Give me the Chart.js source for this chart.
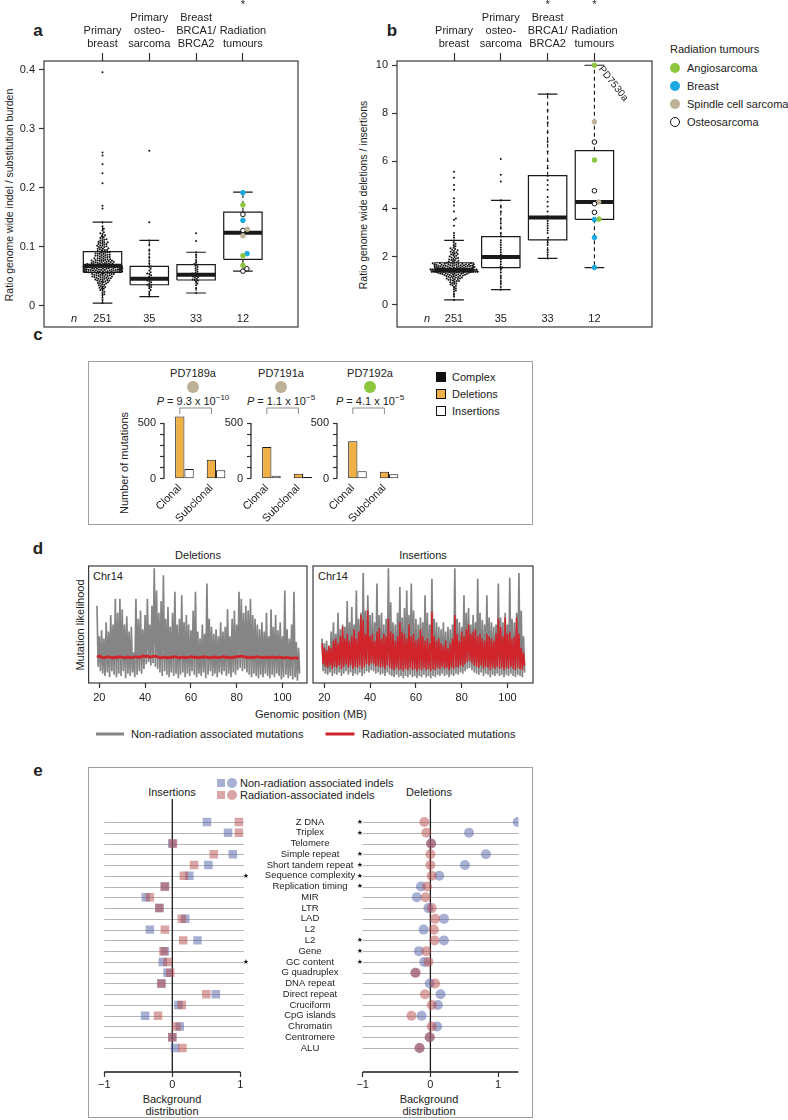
<!DOCTYPE html>
<html>
<head>
<meta charset="utf-8">
<title>Radiation-associated indels</title>
<script src="https://cdn.jsdelivr.net/npm/chart.js@4.4.1/dist/chart.umd.min.js"></script>
<style>
  body { margin: 0; background: #fff; }
  #page { position: relative; width: 788px; height: 1120px; overflow: hidden; font-family: "Liberation Sans", Arial, sans-serif; color: #222; }
  #page canvas { position: absolute; }
  .t { position: absolute; font-size: 11px; line-height: 1; white-space: nowrap; }
  .c { transform: translate(-50%, -50%); }
  .l { transform: translate(0, -50%); }
  .v { transform: translate(-50%, -50%) rotate(-90deg); }
  .tag { position: absolute; font-size: 17px; font-weight: bold; line-height: 1; transform: translate(-50%, -50%); }
  .frame { position: absolute; border: 1px solid #a0a0a0; }
  .mk { position: absolute; transform: translate(-50%, -50%); box-sizing: border-box; }
  sup { font-size: 8px; vertical-align: 5px; line-height: 0; }
</style>
</head>
<body>
<div id="page">
  <!-- a -->
  <div class="tag" style="left:38px;top:30px">a</div>
  <div class="t v" style="left:9px;top:195px;font-size:10.5px">Ratio genome wide indel / substitution burden</div>
  <!-- b -->
  <div class="tag" style="left:392px;top:30px">b</div>
  <div class="t v" style="left:363px;top:195px;font-size:10.5px">Ratio genome wide deletions / insertions</div>
  <div class="t l" style="left:670px;top:49px">Radiation tumours</div>
  <div class="mk" style="left:675px;top:68px;width:10px;height:10px;border-radius:50%;background:#8cc63e"></div>
  <div class="mk" style="left:675px;top:86px;width:10px;height:10px;border-radius:50%;background:#1ba9e1"></div>
  <div class="mk" style="left:675px;top:104px;width:10px;height:10px;border-radius:50%;background:#bdb196"></div>
  <div class="mk" style="left:675px;top:122px;width:10px;height:10px;border-radius:50%;border:1.3px solid #111;background:#fff"></div>
  <div class="t l" style="left:687px;top:68px">Angiosarcoma</div>
  <div class="t l" style="left:687px;top:86px">Breast</div>
  <div class="t l" style="left:687px;top:104px">Spindle cell sarcoma</div>
  <div class="t l" style="left:687px;top:122px">Osteosarcoma</div>
  <!-- c -->
  <div class="tag" style="left:38px;top:334px">c</div>
  <div class="frame" style="left:88px;top:361px;width:443px;height:162px"></div>
  <div class="t c" style="left:193px;top:373px">PD7189a</div>
  <div class="t c" style="left:281px;top:373px">PD7191a</div>
  <div class="t c" style="left:370px;top:373px">PD7192a</div>
  <div class="mk" style="left:193px;top:387px;width:12px;height:12px;border-radius:50%;background:#bdb196"></div>
  <div class="mk" style="left:281px;top:387px;width:12px;height:12px;border-radius:50%;background:#bdb196"></div>
  <div class="mk" style="left:370px;top:387px;width:12px;height:12px;border-radius:50%;background:#8cc63e"></div>
  <div class="t c" style="left:193px;top:401px"><i>P</i> = 9.3 x 10<sup>−10</sup></div>
  <div class="t c" style="left:281px;top:401px"><i>P</i> = 1.1 x 10<sup>−5</sup></div>
  <div class="t c" style="left:370px;top:401px"><i>P</i> = 4.1 x 10<sup>−5</sup></div>
  <div class="t v" style="left:124px;top:463px">Number of mutations</div>
  <div class="mk" style="left:441px;top:377px;width:10px;height:10px;border:1px solid #111;background:#111"></div>
  <div class="mk" style="left:441px;top:394px;width:10px;height:10px;border:1px solid #111;background:#efb045"></div>
  <div class="mk" style="left:441px;top:411px;width:10px;height:10px;border:1px solid #111;background:#fff"></div>
  <div class="t l" style="left:452px;top:377px">Complex</div>
  <div class="t l" style="left:452px;top:394px">Deletions</div>
  <div class="t l" style="left:452px;top:411px">Insertions</div>
  <!-- d -->
  <div class="tag" style="left:38px;top:548px">d</div>
  <div class="t c" style="left:198px;top:555px">Deletions</div>
  <div class="t c" style="left:423px;top:555px">Insertions</div>
  <div class="t l" style="left:93px;top:576px">Chr14</div>
  <div class="t l" style="left:318px;top:576px">Chr14</div>
  <div class="t v" style="left:80px;top:625px">Mutation likelihood</div>
  <div class="t c" style="left:311px;top:714px">Genomic position (MB)</div>
  <div class="mk" style="left:110px;top:734px;width:28px;height:3px;background:#858585"></div>
  <div class="t l" style="left:131px;top:734px">Non-radiation associated mutations</div>
  <div class="mk" style="left:340px;top:734px;width:29px;height:3px;background:#d1232a"></div>
  <div class="t l" style="left:362px;top:734px">Radiation-associated mutations</div>
  <!-- e -->
  <div class="tag" style="left:38px;top:770px">e</div>
  <div class="frame" style="left:88px;top:767px;width:443px;height:349px"></div>
  <div class="mk" style="left:221px;top:783px;width:8px;height:8px;background:rgba(80,95,165,0.5)"></div>
  <div class="mk" style="left:232px;top:783px;width:10px;height:10px;border-radius:50%;background:rgba(80,95,165,0.5)"></div>
  <div class="mk" style="left:221px;top:795px;width:8px;height:8px;background:rgba(185,75,75,0.5)"></div>
  <div class="mk" style="left:232px;top:795px;width:10px;height:10px;border-radius:50%;background:rgba(185,75,75,0.5)"></div>
  <div class="t l" style="left:240px;top:783px">Non-radiation associated indels</div>
  <div class="t l" style="left:240px;top:795px">Radiation-associated indels</div>
  <div class="t c" style="left:172px;top:792px">Insertions</div>
  <div class="t c" style="left:429px;top:792px">Deletions</div>
  <div class="t c" style="left:172px;top:1099px">Background</div>
  <div class="t c" style="left:172px;top:1111px">distribution</div>
  <div class="t c" style="left:429px;top:1099px">Background</div>
  <div class="t c" style="left:429px;top:1111px">distribution</div>
</div>
<script>
// ---------- data: panels a and b ----------
const groupN = [251, 35, 33, 12];
const topLabelsA = [["Primary", "breast"], ["Primary", "osteo-", "sarcoma"], ["Breast", "BRCA1/", "BRCA2"], ["*", "", "Radiation", "tumours"]];
const topLabelsB = [["Primary", "breast"], ["Primary", "osteo-", "sarcoma"], ["*", "Breast", "BRCA1/", "BRCA2"], ["*", "", "Radiation", "tumours"]];

// box statistics (lower whisker, quartiles, median, upper whisker)
const lowA = [0.005, 0.016, 0.022, 0.059];
const q1A = [0.057, 0.036, 0.044, 0.079];
const medA = [0.068, 0.046, 0.053, 0.124];
const q3A = [0.092, 0.067, 0.070, 0.159];
const highA = [0.142, 0.111, 0.091, 0.193];

const lowB = [0.21, 0.64, 1.94, 1.56];
const q1B = [1.38, 1.56, 2.71, 3.57];
const medB = [1.47, 2.00, 3.65, 4.29];
const q3B = [1.76, 2.85, 5.39, 6.43];
const highB = [2.69, 4.36, 8.79, 9.99];

const breastA = [0.005,0.010,0.014,0.018,0.020,0.022,0.024,0.026,0.027,0.029,0.030,0.031,0.032,0.033,0.034,0.035,0.036,0.037,0.038,0.038,0.039,0.040,0.040,0.041,0.042,0.042,0.043,0.043,0.044,0.044,0.045,0.045,0.046,0.046,0.047,0.047,0.048,0.048,0.048,0.049,0.049,0.050,0.050,0.050,0.051,0.051,0.052,0.052,0.052,0.053,0.053,0.053,0.054,0.054,0.054,0.055,0.055,0.055,0.056,0.056,0.056,0.057,0.057,
  0.057,0.057,0.057,0.058,0.058,0.058,0.058,0.058,0.059,0.059,0.059,0.059,0.059,0.059,0.060,0.060,0.060,0.060,0.060,0.060,0.061,0.061,0.061,0.061,0.061,0.061,0.062,0.062,0.062,0.062,0.062,0.062,0.063,0.063,0.063,0.063,0.063,0.063,0.064,0.064,0.064,0.064,0.064,0.064,0.065,0.065,0.065,0.065,0.065,0.065,0.066,0.066,0.066,0.066,0.066,0.066,0.067,0.067,0.067,0.067,0.067,0.068,0.068,
  0.068,0.068,0.069,0.069,0.069,0.069,0.070,0.070,0.070,0.070,0.071,0.071,0.071,0.071,0.072,0.072,0.072,0.073,0.073,0.073,0.074,0.074,0.074,0.075,0.075,0.075,0.076,0.076,0.076,0.077,0.077,0.077,0.078,0.078,0.078,0.079,0.079,0.080,0.080,0.081,0.081,0.082,0.082,0.083,0.083,0.084,0.084,0.085,0.085,0.086,0.086,0.087,0.087,0.088,0.088,0.089,0.089,0.090,0.090,0.091,0.091,0.092,0.092,
  0.093,0.094,0.095,0.095,0.096,0.097,0.097,0.098,0.099,0.100,0.100,0.101,0.102,0.102,0.103,0.104,0.105,0.105,0.106,0.107,0.108,0.108,0.109,0.110,0.111,0.112,0.113,0.114,0.115,0.117,0.118,0.120,0.122,0.123,0.125,0.128,0.131,0.135,0.142,0.165,0.170,0.208,0.225,0.240,0.255,0.260,0.396];
const osteoA = [0.016,0.020,0.024,0.027,0.030,0.032,0.034,0.036,0.036,0.038,0.040,0.042,0.043,0.045,0.046,0.046,0.047,0.050,0.052,0.054,0.055,0.057,0.060,0.063,0.066,0.067,0.072,0.076,0.082,0.088,0.095,0.103,0.111,0.142,0.263];
const brcaA = [0.022,0.030,0.035,0.038,0.041,0.043,0.044,0.045,0.046,0.048,0.049,0.050,0.051,0.052,0.053,0.054,0.055,0.056,0.058,0.060,0.062,0.064,0.066,0.068,0.070,0.071,0.074,0.078,0.082,0.087,0.091,0.110,0.123];
const radA = [0.192, 0.171, 0.155, 0.145, 0.128, 0.130, 0.119, 0.0887, 0.0853, 0.069, 0.059, 0.063];
const radTypeA = ["breast", "angio", "osteo", "breast", "osteo", "spindle", "spindle", "breast", "angio", "angio", "osteo", "osteo"];

const breastB = [0.21,0.35,0.45,0.55,0.60,0.65,0.70,0.75,0.80,0.82,0.85,0.88,0.90,0.92,0.95,0.97,1.00,1.00,1.02,1.04,1.05,1.07,1.08,1.10,1.10,1.12,1.13,1.15,1.15,1.17,1.18,1.20,1.20,1.21,1.22,1.23,1.24,1.25,1.25,1.26,1.27,1.28,1.28,1.29,1.30,1.30,1.31,1.32,1.32,1.33,1.33,1.34,1.34,1.35,1.35,1.36,1.36,1.37,1.37,1.38,1.38,
  1.38,1.39,1.39,1.39,1.39,1.39,1.39,1.40,1.40,1.40,1.40,1.40,1.40,1.40,1.41,1.41,1.41,1.41,1.41,1.41,1.41,1.42,1.42,1.42,1.42,1.42,1.42,1.42,1.43,1.43,1.43,1.43,1.43,1.43,1.43,1.44,1.44,1.44,1.44,1.44,1.44,1.44,1.45,1.45,1.45,1.45,1.45,1.45,1.45,1.46,1.46,1.46,1.46,1.46,1.46,1.46,1.47,1.47,1.47,1.47,1.47,1.47,
  1.48,1.48,1.48,1.48,1.50,1.50,1.50,1.50,1.52,1.52,1.52,1.52,1.54,1.54,1.54,1.54,1.56,1.56,1.56,1.56,1.58,1.58,1.58,1.58,1.60,1.60,1.60,1.60,1.62,1.62,1.62,1.62,1.64,1.64,1.64,1.64,1.66,1.66,1.66,1.66,1.68,1.68,1.68,1.68,1.70,1.70,1.70,1.70,1.72,1.72,1.72,1.72,1.74,1.74,1.74,1.76,1.76,1.76,
  1.78,1.80,1.82,1.84,1.86,1.88,1.90,1.92,1.94,1.96,1.98,2.00,2.02,2.05,2.08,2.10,2.12,2.15,2.18,2.20,2.22,2.25,2.28,2.30,2.33,2.36,2.40,2.45,2.50,2.55,2.60,2.69,2.80,2.90,3.00,3.30,3.55,3.60,3.90,4.15,4.30,4.45,4.80,5.00,5.30,5.55];
const osteoB = [0.64,0.75,0.90,1.00,1.10,1.20,1.35,1.50,1.56,1.60,1.70,1.80,1.90,1.95,2.00,2.00,2.05,2.10,2.20,2.30,2.40,2.50,2.60,2.70,2.85,3.00,3.20,3.40,3.60,3.90,4.10,4.36,5.15,5.43,6.08];
const brcaB = [1.94,2.10,2.20,2.30,2.50,2.60,2.71,2.80,3.00,3.10,3.20,3.30,3.40,3.50,3.60,3.65,3.70,3.90,4.10,4.30,4.50,4.80,5.00,5.20,5.39,5.70,6.00,6.40,6.80,7.20,7.60,8.10,8.79];
const radB = [9.99, 7.63, 6.79, 6.04, 4.76, 4.29, 4.22, 3.86, 3.56, 3.58, 2.81, 1.56];
const radTypeB = ["angio", "spindle", "osteo", "angio", "osteo", "spindle", "osteo", "osteo", "breast", "angio", "breast", "breast"];

// ---------- data: panel c ----------
const clonalityC = ["Clonal", "Subclonal"];
const complexC = [[5, 4], [4, 4], [3, 3]];
const deletionsC = [[560, 170], [285, 45], [338, 63]];
const insertionsC = [[87, 75], [27, 15], [66, 39]];

// ---------- data: panel d (Chr14, per-MB envelope of the likelihood trace) ----------
const posD = [19,20,21,22,23,24,25,26,27,28,29,30,31,32,33,34,35,36,37,38,39,40,41,42,43,44,45,46,47,48,49,50,51,52,53,54,55,56,57,58,59,60,61,62,63,64,65,66,67,68,69,70,71,72,73,74,75,76,77,78,79,80,81,82,83,84,85,86,87,88,89,90,91,92,93,94,95,96,97,98,99,100,101,102,103,104,105,106,107];
const delGrayHi = [66,40,45,38,52,44,58,50,72,60, 72,63,50,57,44,48,26,72,55,62, 46,58,72,50,66,98,79,60,70,92, 55,65,48,60,78,50,55,75,52,58, 50,45,62,78,44,38,50,42,85,55, 48,42,46,40,52,44,48,63,40,55, 62,50,78,72,60,66,62,72,58,55, 50,46,52,44,60,40,63,48,58,45, 52,40,79,46,38,50,78,35,30];
const delGrayLo = [14,10,8,6,9,5,10,7,5,8, 6,10,4,8,6,9,5,7,10,8, 12,16,18,15,17,14,12,9,6,10, 7,5,9,6,8,4,7,9,5,8, 6,10,7,5,8,6,9,4,7,10, 6,8,5,9,7,10,6,8,5,9, 7,11,13,10,12,9,7,5,8,6, 4,7,5,8,6,4,7,5,8,6, 3,5,7,4,6,3,5,2,8];
const delRed = [22,23,22,21.5,22,22.5,22,21.5,22,22, 22.5,22,21.5,22,22,21.5,22,22.5,22,22, 23,22.5,23,22,22.5,23,22.5,22,21.5,22, 22,21.5,22,22,22.5,22,21.5,22,22,21.5, 22,22.5,22,22,21.5,22,22,22.5,22,21.5, 22,22,22,21.5,22,22.5,22,22,21.5,22, 22,22.5,22.5,23,22.5,22,22,21.5,22,22, 22.5,22,21.5,22,22,21.5,22,22,21.5,22, 22,21.5,21.5,22,21.5,21,21.5,21.5,21];
const insGrayHi = [38,34,36,30,44,52,42,60,46,50, 48,70,52,65,50,79,55,60,94,62, 75,58,60,52,85,58,60,50,55,98, 69,52,50,60,82,56,64,79,58,85, 62,55,50,56,52,75,60,50,89,55, 52,48,46,52,44,48,46,50,98,55, 52,48,75,60,64,50,58,52,89,60, 54,50,75,56,52,48,50,85,56,52, 60,50,90,55,52,60,94,62,40];
const insGrayLo = [10,8,7,9,6,8,7,9,6,8, 10,7,9,6,8,7,9,6,8,10, 9,11,10,8,9,7,8,6,9,7, 6,5,7,5,6,4,6,5,7,5, 6,4,6,5,7,5,6,4,6,5, 7,6,8,6,7,5,7,6,8,7, 9,8,10,12,13,11,9,8,7,9, 6,8,7,5,7,6,8,6,7,5, 7,6,8,6,5,7,6,5,9];
const insRedHi = [34,30,28,32,30,36,38,34,40,48, 38,42,36,40,46,38,44,58,54,42, 62,40,42,36,44,47,38,42,40,55, 44,42,36,40,52,44,42,38,50,40, 42,36,38,46,40,36,38,34,61,40, 36,38,34,32,36,30,34,38,58,42, 36,44,40,46,50,42,44,46,40,42, 38,36,42,40,38,36,42,55,48,40, 56,42,44,38,40,56,42,30,26];
const insRedLo = [16,14,13,15,12,14,13,15,12,14, 16,13,15,12,14,13,15,12,14,16, 15,17,16,14,15,13,14,12,15,13, 12,11,13,11,12,10,12,11,13,11, 12,10,12,11,13,11,12,10,12,11, 13,12,14,12,13,11,13,12,14,13, 15,14,16,18,19,17,15,14,13,15, 12,14,13,11,13,12,14,12,13,11, 13,12,14,12,11,13,12,11,15];
const ticksD = [20, 40, 60, 80, 100];

// ---------- data: panel e ----------
const featuresE = ["Z DNA", "Triplex", "Telomere", "Simple repeat", "Short tandem repeat", "Sequence complexity", "Replication timing", "MIR", "LTR", "LAD", "L2", "L2", "Gene", "GC content", "G quadruplex", "DNA repeat", "Direct repeat", "Cruciform", "CpG islands", "Chromatin", "Centromere", "ALU"];
const insNonRadE = [0.51, 0.82, 0, 0.89, 0.53, 0.25, -0.11, -0.39, -0.19, 0.19, -0.33, 0.37, -0.11, -0.14, -0.07, -0.16, 0.64, 0.09, -0.40, 0.11, 0, 0.04];
const insRadE = [0.98, 0.98, 0.01, 0.61, 0.32, 0.17, -0.11, -0.33, -0.19, 0.14, -0.11, 0.16, -0.13, -0.07, -0.03, -0.16, 0.50, 0.14, -0.21, 0.06, 0, 0.15];
const delNonRadE = [1.29, 0.57, 0.01, 0.82, 0.51, 0.13, -0.14, -0.20, -0.03, 0.20, -0.10, 0.20, -0.17, -0.09, -0.22, -0.01, 0.15, 0.11, -0.13, 0.10, -0.01, -0.16];
const delRadE = [-0.09, -0.06, 0.01, 0, 0, 0.02, -0.05, -0.07, 0.02, 0.07, 0.05, 0.06, -0.06, -0.03, -0.22, 0.07, -0.08, 0.02, -0.28, 0.02, -0.01, -0.16];
const insStarE = [5, 13];
const delStarE = [0, 1, 3, 4, 5, 6, 11, 12, 13];
const ticksE = [-1, 0, 1];

// ---------- styling ----------
const FONT = '"Liberation Sans", Arial, sans-serif';
const tumourFill = { angio: "#8cc63e", breast: "#1ba9e1", spindle: "#bdb196", osteo: "#ffffff" };
const tumourEdge = { angio: "#8cc63e", breast: "#1ba9e1", spindle: "#bdb196", osteo: "#111111" };
const GRAY = "#858585", RED = "#d1232a", ORANGE = "#efb045";
const BLUE_E = "rgba(80,95,165,0.5)", RED_E = "rgba(185,75,75,0.5)";

Chart.defaults.font.family = FONT;
Chart.defaults.font.size = 11;
Chart.defaults.color = "#222";
Chart.defaults.animation = false;
Chart.defaults.responsive = false;
Chart.defaults.events = [];
Chart.defaults.plugins.legend.display = false;
Chart.defaults.plugins.tooltip.enabled = false;

const page = document.getElementById("page");
function place(g) {
  const cv = document.createElement("canvas");
  cv.width = g.w; cv.height = g.h;
  cv.style.left = g.l + "px"; cv.style.top = g.t + "px";
  page.appendChild(cv);
  return cv;
}
// margins between canvas edge and the wanted chart area; sides that carry
// an axis get their margin as the axis size instead of as padding
function frameLayout(g, a, axisSides) {
  const m = { left: a.l - g.l, top: a.t - g.t, right: g.l + g.w - a.r, bottom: g.t + g.h - a.b };
  const padding = Object.assign({}, m);
  axisSides.forEach(s => { padding[s] = 0; });
  return { m, padding };
}
const fitTo = px => s => { if (s.isHorizontal()) s.height = px; else s.width = px; };
const fixTicks = list => s => { s.ticks = list.map(value => ({ value })); };
const tickGrid = len => ({ drawOnChartArea: false, tickLength: len, tickColor: "#333", tickWidth: 1.2 });

const framePlugin = {
  id: "frame",
  afterDatasetsDraw(chart) {
    const a = chart.chartArea, ctx = chart.ctx;
    ctx.save();
    ctx.strokeStyle = "#3a3a3a"; ctx.lineWidth = 1.2;
    ctx.strokeRect(a.left, a.top, a.right - a.left, a.bottom - a.top);
    ctx.restore();
  }
};

// ---------- panels a and b ----------
function boxParts(lo, q1, md, q3, hi, half, cap) {
  const boxes = [], meds = [], whisk = [], caps = [];
  q1.forEach((_, i) => {
    const c = i + 1;
    boxes.push({ x: c - half, y: q1[i] }, { x: c + half, y: q1[i] }, { x: c + half, y: q3[i] }, { x: c - half, y: q3[i] }, { x: c - half, y: q1[i] }, { x: c, y: null });
    meds.push({ x: c - half, y: md[i] }, { x: c + half, y: md[i] }, { x: c, y: null });
    whisk.push({ x: c, y: q3[i] }, { x: c, y: hi[i] }, { x: c, y: null }, { x: c, y: q1[i] }, { x: c, y: lo[i] }, { x: c, y: null });
    caps.push({ x: c - cap, y: hi[i] }, { x: c + cap, y: hi[i] }, { x: c, y: null }, { x: c - cap, y: lo[i] }, { x: c + cap, y: lo[i] }, { x: c, y: null });
  });
  return { boxes, meds, whisk, caps };
}

// beeswarm placement (closest free offset to the centre line, wrapped at maxHalf px)
function swarm(values, center, xs, ys, d, maxHalf) {
  const cx = xs.getPixelForValue(center);
  const order = values.map((_, i) => i).sort((a, b) => values[a] - values[b]);
  const placed = [];
  const out = new Array(values.length);
  order.forEach(i => {
    const py = ys.getPixelForValue(values[i]);
    const near = placed.filter(p => Math.abs(p.py - py) < d);
    const cands = [0];
    near.forEach(p => {
      const h = Math.sqrt(d * d - (p.py - py) ** 2);
      cands.push(p.dx + h, p.dx - h);
    });
    cands.sort((a, b) => Math.abs(a) - Math.abs(b));
    const dx = cands.find(c => near.every(p => (p.dx - c) ** 2 + (p.py - py) ** 2 >= d * d - 0.01));
    placed.push({ py, dx });
    let shown = dx;
    if (Math.abs(shown) > maxHalf) {
      shown = (((shown + maxHalf) % (2 * maxHalf)) + 2 * maxHalf) % (2 * maxHalf) - maxHalf;
    }
    out[i] = { x: xs.getValueForPixel(cx + shown), y: values[i] };
  });
  return out;
}

const nRowPlugin = {
  id: "nrow",
  afterDraw(chart) {
    const { ctx, chartArea: a } = chart;
    const xs = chart.scales.x;
    const y = a.bottom - 8;
    ctx.save();
    ctx.fillStyle = "#222"; ctx.textAlign = "center"; ctx.textBaseline = "middle";
    ctx.font = "italic 11px " + FONT;
    ctx.fillText("n", a.left + 30, y);
    ctx.font = "11px " + FONT;
    groupN.forEach((n, i) => ctx.fillText(String(n), xs.getPixelForValue(i + 1), y));
    ctx.restore();
  }
};

function boxChart(o) {
  const parts = boxParts(o.lo, o.q1, o.med, o.q3, o.hi, 0.41, 0.21);
  const lay = frameLayout(o.geom, o.area, ["left", "top"]);
  const lineDs = (data, w, dash, order) => ({
    data, showLine: true, borderColor: "#1a1a1a", borderWidth: w, borderDash: dash,
    pointRadius: 0, order, borderCapStyle: "butt", fill: false
  });
  const chart = new Chart(place(o.geom), {
    type: "scatter",
    data: {
      datasets: [
        { data: [], pointRadius: 2.3, pointBackgroundColor: o.radType.map(t => tumourFill[t]),
          pointBorderColor: o.radType.map(t => tumourEdge[t]), pointBorderWidth: 1, order: 0 },
        lineDs(parts.meds, 4, [], 1),
        lineDs(parts.boxes, 1.2, [], 2),
        lineDs(parts.caps, 1.2, [], 3),
        lineDs(parts.whisk, 1.1, [4, 3], 4),
        { data: [], pointRadius: 1, pointBackgroundColor: "#111", pointBorderWidth: 0, order: 5 }
      ]
    },
    options: {
      layout: { padding: lay.padding },
      scales: {
        x: { type: "linear", display: false, min: o.xr[0], max: o.xr[1] },
        xTop: {
          type: "linear", position: "top", min: o.xr[0], max: o.xr[1], afterFit: fitTo(lay.m.top),
          afterBuildTicks: fixTicks([1, 2, 3, 4]),
          ticks: { callback: v => o.top[v - 1], padding: 2, autoSkip: false, maxRotation: 0 },
          grid: tickGrid(8), border: { display: false }
        },
        y: {
          type: "linear", min: o.yr[0], max: o.yr[1], afterFit: fitTo(lay.m.left),
          afterBuildTicks: fixTicks(o.yTicks),
          ticks: { callback: o.yFmt, padding: 4, autoSkip: false },
          grid: tickGrid(5), border: { display: false }
        }
      }
    },
    plugins: [framePlugin, nRowPlugin].concat(o.extra || [])
  });
  const xs = chart.scales.x, ys = chart.scales.y;
  const dots = [];
  o.groups.forEach((vals, gi) => dots.push(...swarm(vals, gi + 1, xs, ys, 2.2, o.maxHalf[gi])));
  chart.data.datasets[5].data = dots;
  chart.data.datasets[0].data = swarm(o.rad, 4, xs, ys, 4.6, 30);
  chart.update("none");
  return chart;
}

boxChart({
  geom: { l: 0, t: 0, w: 320, h: 345 }, area: { l: 44, t: 61, r: 298, b: 327 },
  xr: [-0.25, 5.177], yr: [-0.0356, 0.415], yTicks: [0, 0.1, 0.2, 0.3, 0.4],
  yFmt: v => (v === 0 ? "0" : v.toFixed(1)), top: topLabelsA,
  lo: lowA, q1: q1A, med: medA, q3: q3A, hi: highA,
  groups: [breastA, osteoA, brcaA], maxHalf: [20, 22, 22], rad: radA, radType: radTypeA
});

const pdLabelPlugin = {
  id: "pdlabel",
  afterDraw(chart) {
    const k = radB.indexOf(Math.max(...radB));
    const p = chart.getDatasetMeta(0).data[k];
    if (!p) return;
    const ctx = chart.ctx;
    ctx.save();
    ctx.translate(p.x + 6, p.y + 2);
    ctx.rotate(52 * Math.PI / 180);
    ctx.font = "10px " + FONT; ctx.fillStyle = "#222"; ctx.textBaseline = "middle";
    ctx.fillText("PD7530a", 0, 0);
    ctx.restore();
  }
};

boxChart({
  geom: { l: 355, t: 0, w: 315, h: 345 }, area: { l: 397, t: 61, r: 652, b: 327 },
  xr: [-0.218, 5.23], yr: [-0.917, 10.167], yTicks: [0, 2, 4, 6, 8, 10],
  yFmt: v => String(v), top: topLabelsB,
  lo: lowB, q1: q1B, med: medB, q3: q3B, hi: highB,
  groups: [breastB, osteoB, brcaB], maxHalf: [24, 22, 22], rad: radB, radType: radTypeB,
  extra: [pdLabelPlugin]
});

// ---------- panel c ----------
const axisXC = [163.5, 250.5, 337];
const cPlugin = {
  id: "cdeco",
  afterDraw(chart) {
    const { ctx, chartArea: a, scales: { y } } = chart;
    const top = chart.canvas.offsetTop;
    ctx.save();
    ctx.strokeStyle = "#222"; ctx.lineWidth = 1.2;
    ctx.beginPath(); ctx.moveTo(a.left, y.getPixelForValue(0)); ctx.lineTo(a.left, y.getPixelForValue(500)); ctx.stroke();
    const bars = chart.getDatasetMeta(1).data;
    const yb = 408 - top;
    ctx.strokeStyle = "#8a8a8a"; ctx.lineWidth = 1;
    ctx.beginPath();
    ctx.moveTo(bars[0].x, yb + 6); ctx.lineTo(bars[0].x, yb); ctx.lineTo(bars[1].x, yb); ctx.lineTo(bars[1].x, yb + 6);
    ctx.stroke();
    ctx.restore();
  }
};
axisXC.forEach((ax, k) => {
  const geom = { l: ax - 42, t: 395, w: 42 + 68, h: 135 };
  const area = { l: ax, t: 412, r: ax + 63.2, b: 478.7 };
  const lay = frameLayout(geom, area, ["left", "bottom"]);
  const barDs = (label, data, color) => ({
    label, data, backgroundColor: color, borderColor: "#1a1a1a", borderWidth: 1,
    borderSkipped: false, categoryPercentage: 0.88, barPercentage: 1
  });
  new Chart(place(geom), {
    type: "bar",
    data: {
      labels: clonalityC,
      datasets: [
        barDs("Complex", complexC[k], "#111"),
        barDs("Deletions", deletionsC[k], ORANGE),
        barDs("Insertions", insertionsC[k], "#fff")
      ]
    },
    options: {
      layout: { padding: lay.padding },
      scales: {
        x: { afterFit: fitTo(lay.m.bottom), grid: { display: false, drawTicks: false }, border: { display: false },
             ticks: { minRotation: 45, maxRotation: 45, padding: 3, autoSkip: false } },
        y: { min: 0, max: 600, afterFit: fitTo(lay.m.left), afterBuildTicks: fixTicks([0, 100, 200, 300, 400, 500]),
             ticks: { callback: v => (v === 0 || v === 500 ? String(v) : ""), padding: 4, autoSkip: false },
             grid: tickGrid(4), border: { display: false } }
      }
    },
    plugins: [cPlugin]
  });
});

// ---------- panel d ----------
function zigzag(hi, lo) {
  const pts = [];
  posD.forEach((p, i) => { pts.push({ x: p, y: hi[i] }, { x: p + 0.5, y: lo[i] }); });
  return pts;
}
function traceChart(geom, area, xr, datasets) {
  const lay = frameLayout(geom, area, ["bottom"]);
  new Chart(place(geom), {
    type: "scatter",
    data: { datasets },
    options: {
      layout: { padding: lay.padding },
      elements: { point: { radius: 0 } },
      scales: {
        x: { type: "linear", min: xr[0], max: xr[1], afterFit: fitTo(lay.m.bottom), afterBuildTicks: fixTicks(ticksD),
             ticks: { padding: 3, autoSkip: false, maxRotation: 0 }, grid: tickGrid(5), border: { display: false } },
        y: { type: "linear", display: false, min: 0, max: 100 }
      }
    },
    plugins: [framePlugin]
  });
}
const traceDs = (data, color, w, order) => ({ data, showLine: true, borderColor: color, borderWidth: w, pointRadius: 0, order, borderJoinStyle: "miter", fill: false });
traceChart({ l: 60, t: 560, w: 260, h: 150 }, { l: 88.6, t: 566, r: 307, b: 683 }, [15.33, 110.7], [
  traceDs(posD.map((p, i) => ({ x: p, y: delRed[i] })), RED, 2.8, 0),
  traceDs(zigzag(delGrayHi, delGrayLo), GRAY, 1.7, 1)
]);
traceChart({ l: 300, t: 560, w: 250, h: 150 }, { l: 313, t: 566, r: 533, b: 683 }, [15.07, 111.14], [
  traceDs(zigzag(insRedHi, insRedLo), RED, 1.5, 0),
  traceDs(zigzag(insGrayHi, insGrayLo), GRAY, 1.7, 1)
]);

// ---------- panel e ----------
function dotChart(o) {
  const lay = frameLayout(o.geom, o.area, ["bottom"]);
  const rowsPlugin = {
    id: "rows",
    beforeDatasetsDraw(chart) {
      const { ctx, chartArea: a, scales: { x, y } } = chart;
      ctx.save();
      ctx.strokeStyle = "#b4b4b4"; ctx.lineWidth = 1.2;
      featuresE.forEach((_, i) => {
        const py = Math.round(y.getPixelForValue(i)) + 0.5;
        ctx.beginPath(); ctx.moveTo(x.getPixelForValue(-1), py); ctx.lineTo(a.right, py); ctx.stroke();
      });
      ctx.strokeStyle = "#1a1a1a"; ctx.lineWidth = 1.3;
      const x0 = x.getPixelForValue(0);
      ctx.beginPath(); ctx.moveTo(x0, a.top); ctx.lineTo(x0, a.bottom); ctx.stroke();
      ctx.beginPath(); ctx.moveTo(x.getPixelForValue(-1), a.bottom); ctx.lineTo(x.getPixelForValue(o.axisEnd), a.bottom); ctx.stroke();
      ctx.restore();
    },
    afterDraw(chart) {
      const { ctx, scales: { y } } = chart;
      ctx.save();
      ctx.fillStyle = "#111"; ctx.textAlign = "center"; ctx.textBaseline = "middle";
      ctx.font = "7px DejaVu Sans";
      o.stars.forEach(i => ctx.fillText("★", o.starX - o.geom.l, y.getPixelForValue(i)));
      if (o.labelX) {
        ctx.fillStyle = "#222"; ctx.font = "9.5px " + FONT;
        featuresE.forEach((f, i) => ctx.fillText(f, o.labelX - o.geom.l, y.getPixelForValue(i)));
      }
      ctx.restore();
    }
  };
  const ds = (vals, color, order) => ({
    data: vals.map((v, i) => ({ x: v, y: i })), pointStyle: o.style, pointRadius: o.r,
    pointBackgroundColor: color, pointBorderWidth: 0, order
  });
  new Chart(place(o.geom), {
    type: "scatter",
    data: { datasets: [ds(o.rad, RED_E, 0), ds(o.nonRad, BLUE_E, 1)] },
    options: {
      layout: { padding: lay.padding },
      scales: {
        x: { type: "linear", min: -1, max: o.xmax, afterFit: fitTo(lay.m.bottom), afterBuildTicks: fixTicks(ticksE),
             ticks: { callback: v => (v < 0 ? "\u2212" + Math.abs(v) : String(v)), padding: 1, autoSkip: false, maxRotation: 0 },
             grid: tickGrid(5), border: { display: false } },
        y: { type: "linear", display: false, reverse: true, min: -2.137, max: 23.23 }
      }
    },
    plugins: [rowsPlugin]
  });
}
dotChart({
  geom: { l: 88, t: 770, w: 275, h: 330 }, area: { l: 104.3, t: 799, r: 243.7, b: 1072 },
  xmax: 1.05, axisEnd: 1, nonRad: insNonRadE, rad: insRadE, style: "rect", r: 6,
  stars: insStarE, starX: 246, labelX: 310
});
dotChart({
  geom: { l: 352, t: 770, w: 180, h: 330 }, area: { l: 362.7, t: 799, r: 518.4, b: 1072 },
  xmax: 1.3, axisEnd: 1.3, nonRad: delNonRadE, rad: delRadE, style: "circle", r: 5,
  stars: delStarE, starX: 360, labelX: null
});
</script>
</body>
</html>
